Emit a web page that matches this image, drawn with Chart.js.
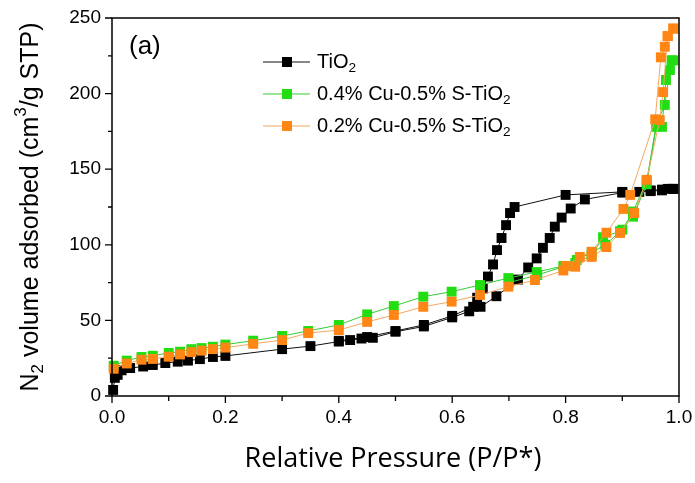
<!DOCTYPE html>
<html>
<head>
<meta charset="utf-8">
<script src="https://cdn.jsdelivr.net/npm/chart.js@4.4.1/dist/chart.umd.min.js"></script>
<style>
  html, body { margin: 0; padding: 0; background: #fff; }
  #wrap { width: 695px; height: 483px; position: relative; }
</style>
</head>
<body>
<div id="wrap"><canvas id="chart"></canvas></div>
<script>
// TiO2 - adsorption then desorption branch
const tioAdsP = [0.002, 0.005, 0.01, 0.017, 0.032, 0.055, 0.072, 0.094, 0.116, 0.134, 0.155, 0.178, 0.2, 0.3, 0.35, 0.4, 0.42, 0.44, 0.46, 0.5, 0.55, 0.6, 0.63, 0.65, 0.678, 0.716, 0.734, 0.749, 0.76, 0.772, 0.781, 0.793, 0.809, 0.834, 0.9, 0.93, 0.95, 0.97, 0.98, 0.99];
const tioAdsV = [4, 12, 14, 17, 18.5, 19.5, 20.5, 21.8, 22.7, 23.4, 24.4, 25.8, 26.5, 31, 33, 36, 37, 38, 38.5, 42.5, 46, 52, 56, 59, 66, 77, 85, 91, 98, 104.5, 112, 118, 124, 130, 134.5, 135, 135.5, 136, 137, 137];
const tioDesP = [0.99, 0.97, 0.95, 0.9, 0.8, 0.71, 0.702, 0.695, 0.687, 0.679, 0.672, 0.663, 0.654, 0.644, 0.637, 0.6, 0.55, 0.5, 0.45, 0.4];
const tioDesV = [137, 136.5, 136, 135, 133, 125, 121, 113, 104.5, 96.5, 87, 79, 71, 65, 59, 53, 47, 43, 39, 36.5];

// 0.4% Cu-0.5% S-TiO2
const cu04AdsP = [0.003, 0.026, 0.052, 0.072, 0.1, 0.12, 0.14, 0.158, 0.178, 0.2, 0.249, 0.3, 0.346, 0.4, 0.45, 0.497, 0.549, 0.599, 0.649, 0.699, 0.749, 0.796, 0.817, 0.846, 0.866, 0.896, 0.919, 0.943, 0.96, 0.97, 0.977, 0.987];
const cu04AdsV = [20, 23.4, 25.8, 26.6, 28.5, 29.3, 31, 31.7, 32.6, 34, 36.6, 39.7, 43, 47, 54, 59.5, 65.7, 69, 73.4, 78, 82, 86, 88, 93, 105, 109, 118.6, 140, 178, 178, 209, 222];
const cu04DesP = [0.99, 0.984, 0.975, 0.96, 0.943, 0.919, 0.9, 0.87, 0.846, 0.82, 0.8, 0.75, 0.7];
const cu04DesV = [222, 215.6, 192.5, 180, 142, 122, 110, 100, 95, 90, 86, 80, 75];

// 0.2% Cu-0.5% S-TiO2
const cu02AdsP = [0.003, 0.026, 0.052, 0.072, 0.1, 0.12, 0.14, 0.158, 0.178, 0.2, 0.249, 0.3, 0.346, 0.4, 0.45, 0.497, 0.549, 0.599, 0.649, 0.699, 0.746, 0.796, 0.817, 0.846, 0.872, 0.896, 0.921, 0.943, 0.966, 0.972, 0.98, 0.99];
const cu02AdsV = [18, 21.5, 24, 24.5, 26, 27.5, 29, 30, 31, 32, 34.5, 37, 41.6, 43.6, 49, 53.6, 59, 62.4, 66.8, 72.3, 76.7, 83, 85.5, 92, 98.5, 107.8, 121, 143, 182.5, 201, 238, 243];
const cu02DesP = [0.99, 0.98, 0.975, 0.968, 0.958, 0.914, 0.902, 0.872, 0.846, 0.825, 0.8];
const cu02DesV = [243, 238, 231, 224, 183, 133, 123.7, 108, 95.4, 92, 86];

const xTicks = [0, 0.2, 0.4, 0.6, 0.8, 1.0];
const yTicks = [0, 50, 100, 150, 200, 250];

const series = [
  { name: 'TiO', sub: '2', P: [...tioAdsP, ...tioDesP], V: [...tioAdsV, ...tioDesV], mark: '#000000', line: '#111111', order: 3 },
  { name: '0.4% Cu-0.5% S-TiO', sub: '2', P: [...cu04AdsP, ...cu04DesP], V: [...cu04AdsV, ...cu04DesV], mark: '#22dd11', line: '#33cc33', order: 2 },
  { name: '0.2% Cu-0.5% S-TiO', sub: '2', P: [...cu02AdsP, ...cu02DesP], V: [...cu02AdsV, ...cu02DesV], mark: '#ff8514', line: '#f3a860', order: 1 }
];

const SANS = "'Liberation Sans', Arial, sans-serif";

// draw text runs with sub/superscripts, returns width
function runs(ctx, parts, x, y, size, draw) {
  let w = 0;
  parts.forEach(p => {
    const s = p.t === 'n' ? size : size * 0.68;
    ctx.font = s + 'px ' + SANS;
    const dy = p.t === 'sub' ? size * 0.3 : p.t === 'sup' ? -size * 0.4 : 0;
    if (draw) ctx.fillText(p.s, x + w, y + dy);
    w += ctx.measureText(p.s).width;
  });
  return w;
}

const decor = {
  id: 'decor',
  afterDraw(chart) {
    const { ctx, chartArea: a, scales: { x, y } } = chart;
    ctx.save();
    ctx.strokeStyle = '#000';
    ctx.lineWidth = 1.5;
    ctx.strokeRect(a.left, a.top, a.right - a.left, a.bottom - a.top);

    ctx.lineWidth = 1.3;
    ctx.beginPath();
    for (let i = 0; i <= 10; i++) {
      const px = x.getPixelForValue(i / 10);
      ctx.moveTo(px, a.bottom);
      ctx.lineTo(px, a.bottom + (i % 2 === 0 ? 7 : 5));
    }
    for (let i = 0; i <= 10; i++) {
      const py = y.getPixelForValue(i * 25);
      ctx.moveTo(a.left, py);
      ctx.lineTo(a.left - (i % 2 === 0 ? 7 : 4), py);
    }
    ctx.stroke();

    ctx.fillStyle = '#000';
    ctx.textBaseline = 'middle';
    ctx.textAlign = 'left';

    // panel label
    ctx.font = '26px ' + SANS;
    ctx.fillText('(a)', 129, 47);

    // legend
    series.forEach((s, i) => {
      const ly = 62 + i * 32;
      ctx.strokeStyle = s.line;
      ctx.lineWidth = 1;
      ctx.beginPath();
      ctx.moveTo(263, ly);
      ctx.lineTo(310, ly);
      ctx.stroke();
      ctx.fillStyle = s.mark;
      ctx.fillRect(282, ly - 5, 10, 10);
      ctx.fillStyle = '#000';
      runs(ctx, [{ t: 'n', s: s.name }, { t: 'sub', s: s.sub }], 317, ly, 20, true);
    });

    // x title
    ctx.font = "27px 'Open Sans', sans-serif";
    ctx.textAlign = 'center';
    ctx.fillText('Relative Pressure (P/P*)', 393, 459);

    // y title
    ctx.textAlign = 'left';
    const yParts = [{ t: 'n', s: 'N' }, { t: 'sub', s: '2' }, { t: 'n', s: ' volume adsorbed (cm' }, { t: 'sup', s: '3' }, { t: 'n', s: '/g STP)' }];
    const w = runs(ctx, yParts, 0, 0, 25, false);
    ctx.translate(31, 207);
    ctx.rotate(-Math.PI / 2);
    runs(ctx, yParts, -w / 2, 0, 25, true);
    ctx.restore();
  }
};

new Chart(document.getElementById('chart').getContext('2d'), {
  type: 'scatter',
  data: {
    datasets: series.map(s => ({
      label: s.name + s.sub,
      data: s.P.map((p, i) => ({ x: p, y: s.V[i] })),
      showLine: true,
      borderColor: s.line,
      borderWidth: 1,
      backgroundColor: s.mark,
      pointBackgroundColor: s.mark,
      pointBorderWidth: 0,
      pointStyle: 'rect',
      pointRadius: 7,
      pointHoverRadius: 7,
      order: s.order,
      clip: false
    }))
  },
  options: {
    responsive: true,
    maintainAspectRatio: false,
    animation: false,
    layout: { autoPadding: false, padding: { left: 0, top: 18, right: 16, bottom: 0 } },
    plugins: { legend: { display: false }, tooltip: { enabled: false } },
    scales: {
      x: {
        type: 'linear',
        min: 0,
        max: 1,
        afterFit: s => { s.height = 87; s.paddingLeft = 0; s.paddingRight = 0; },
        afterBuildTicks: s => { s.ticks = xTicks.map(v => ({ value: v })); },
        grid: { display: false, drawTicks: false },
        border: { display: false },
        ticks: {
          padding: 10,
          color: '#000',
          font: { size: 19, family: "'Liberation Sans Narrow', 'Liberation Sans', sans-serif" },
          callback: v => v.toFixed(1)
        }
      },
      y: {
        type: 'linear',
        min: 0,
        max: 250,
        afterFit: s => { s.width = 112; s.paddingTop = 0; s.paddingBottom = 0; },
        afterBuildTicks: s => { s.ticks = yTicks.map(v => ({ value: v })); },
        grid: { display: false, drawTicks: false },
        border: { display: false },
        ticks: {
          padding: 11,
          color: '#000',
          font: { size: 19, family: SANS },
          callback: v => String(v)
        }
      }
    }
  },
  plugins: [decor]
});
</script>
</body>
</html>
